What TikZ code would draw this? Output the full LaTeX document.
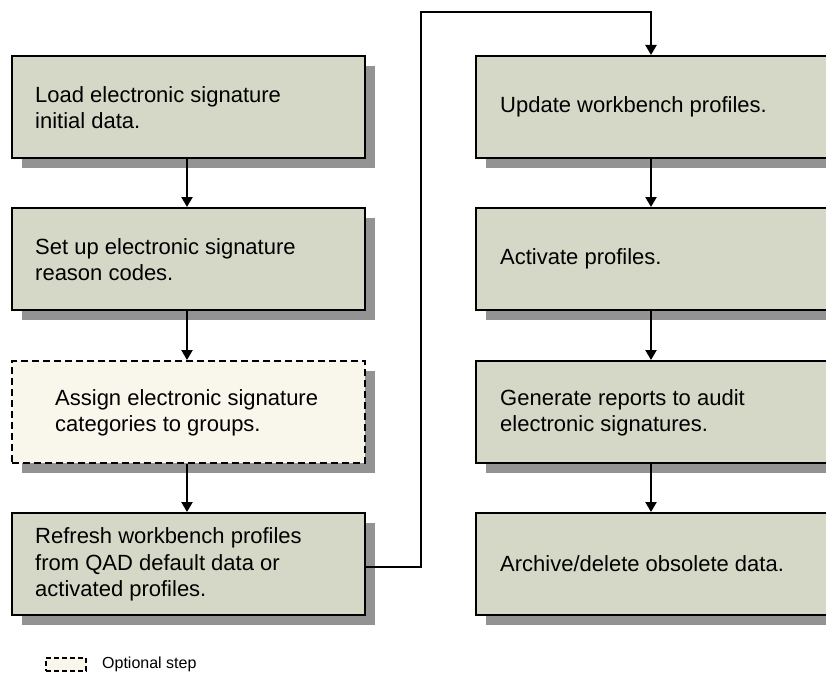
\documentclass[tikz,border=0pt]{standalone}
\usepackage{fontspec}
\setmainfont{Liberation Sans}
\usetikzlibrary{arrows.meta,shadows,positioning}
\definecolor{boxfill}{RGB}{214,216,199}
\definecolor{optfill}{RGB}{249,246,236}
\definecolor{shadowgray}{RGB}{147,147,147}
\tikzset{
  stepbox/.style={draw=black, line width=1.5pt, fill=boxfill, minimum width=353pt, minimum height=102pt, anchor=north west, inner sep=0pt,
    general shadow={fill=shadowgray, shadow xshift=10pt, shadow yshift=-10pt}},
  optbox/.style={stepbox, fill=optfill, line width=2pt, dash pattern=on 7pt off 4pt},
  txt/.style={anchor=west, align=left, inner sep=0pt, font=\fontsize{22}{26.5}\selectfont},
  flow/.style={line width=2.2pt, -{Triangle[width=11pt,length=10pt]}},
}
\begin{document}
\begin{tikzpicture}[x=1pt,y=-1pt]
\useasboundingbox (0,0) rectangle (826,677);
% left column
\node[stepbox] (b1) at (11,55) {};
\node[stepbox] (b2) at (11,207) {};
\node[optbox]  (b3) at (11,360) {};
\node[stepbox] (b4) at (11,512) {};
% right column
\node[stepbox] (r1) at (475,55) {};
\node[stepbox] (r2) at (475,207) {};
\node[stepbox] (r3) at (475,360) {};
\node[stepbox] (r4) at (475,512) {};
% texts
\node[txt] (t1) at ([xshift=24pt,yshift=-1pt]b1.west) {Load electronic signature\\initial data.};
\node[txt] (t2) at ([xshift=24pt,yshift=-1pt]b2.west) {Set up electronic signature\\reason codes.};
\node[txt] (t3) at ([xshift=44pt,yshift=-1pt]b3.west) {Assign electronic signature\\categories to groups.};
\node[txt] (t4) at ([xshift=24pt,yshift=-1pt]b4.west) {Refresh workbench profiles\\from QAD default data or\\activated profiles.};
\node[txt] (u1) at ([xshift=25pt]r1.west) {Update workbench profiles.};
\node[txt] (u2) at ([xshift=25pt]r2.west) {Activate profiles.};
\node[txt] (u3) at ([xshift=25pt,yshift=-1pt]r3.west) {Generate reports to audit\\electronic signatures.};
\node[txt] (u4) at ([xshift=25pt]r4.west) {Archive/delete obsolete data.};
% connectors
\draw[flow] (b1.south -| 187,0) -- (b2.north -| 187,0);
\draw[flow] (b2.south -| 187,0) -- (b3.north -| 187,0);
\draw[flow] (b3.south -| 187,0) -- (b4.north -| 187,0);
\coordinate (c1) at (421,567);
\coordinate (c2) at (421,12);
\coordinate (c3) at (651,12);
\draw[flow] (b4.east |- c1) -- (c1) -- (c2) -- (c3) -- (r1.north -| c3);
\draw[flow] (r1.south -| 651,0) -- (r2.north -| 651,0);
\draw[flow] (r2.south -| 651,0) -- (r3.north -| 651,0);
\draw[flow] (r3.south -| 651,0) -- (r4.north -| 651,0);
% legend
\node[draw=black, fill=optfill, line width=2pt, dash pattern=on 5pt off 3pt, minimum width=40pt, minimum height=13pt, inner sep=0pt, anchor=north west] (lg) at (45,657) {};
\node[anchor=west, inner sep=0pt, font=\fontsize{16}{18}\selectfont] (lgt) at ([xshift=15pt]lg.east) {Optional step};
\end{tikzpicture}
\end{document}
